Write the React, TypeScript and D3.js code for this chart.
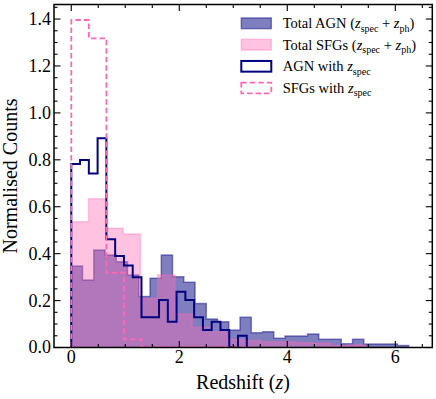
import React from "react";
import * as d3 from "d3";

// ---- data (normalised counts per bin) ----
const agnTotalStart = 0;
const agnTotalWidth = 0.20833;
const agnTotal = [0.347, 0.288, 0.416, 0.394, 0.366, 0.309, 0.217, 0.295, 0.394, 0.302, 0.278, 0.188, 0.121, 0.110, 0.075, 0.129, 0.063, 0.067, 0.039, 0.049, 0.049, 0.058, 0.035, 0.035, 0.016, 0.035, 0.015, 0.015, 0.015, 0.008];

const sfgTotalStart = 0;
const sfgTotalWidth = 0.32;
const sfgTotal = [0.536, 0.634, 0.508, 0.484, 0.210, 0.309, 0.143, 0.086, 0.067, 0.035, 0.030, 0.025, 0.025, 0.020, 0.018, 0.008, 0.012, 0, 0, 0];

const agnSpecStart = 0;
const agnSpecWidth = 0.1625;
const agnSpec = [0.782, 0.799, 0.742, 0.892, 0.461, 0.390, 0.349, 0.299, 0.129, 0.129, 0.202, 0.110, 0.238, 0.202, 0.129, 0.075, 0.110, 0.075, 0, 0.050];

const sfgSpecStart = 0;
const sfgSpecWidth = 0.325;
const sfgSpec = [1.396, 1.318, 0.319, 0.035, 0, 0, 0, 0, 0, 0];

const xMajorTicks = [0, 2, 4, 6];
const yMajorTicks = [0, 0.2, 0.4, 0.6, 0.8, 1.0, 1.2, 1.4];

const W = 436, H = 399;
const L = 54, R = 432.3, T = 4.5, B = 347.5;

const x = d3.scaleLinear().domain([-0.32, 6.685]).range([L, R]);
const y = d3.scaleLinear().domain([0, 1.462]).range([B, T]);

function stepPath(start: number, width: number, vals: number[], close: boolean) {
  const pts: [number, number][] = [];
  pts.push([x(start), y(0)]);
  vals.forEach((v, i) => {
    pts.push([x(start + i * width), y(v)]);
    pts.push([x(start + (i + 1) * width), y(v)]);
  });
  pts.push([x(start + vals.length * width), y(0)]);
  const line = d3.line();
  return line(pts) + (close ? "Z" : "");
}

const FONT = "'Liberation Serif', 'DejaVu Serif', serif";

function MathLabel({ xPos, yPos, pre, subs }: { xPos: number; yPos: number; pre: string; subs: string[] }) {
  const fs = 14.5;
  const sfs = 10;
  const sh = 3.2;
  return (
    <text x={xPos} y={yPos} fontSize={fs} fontFamily={FONT} fill="#000">
      {pre}
      {subs.length === 2 ? (
        <>
          (<tspan fontStyle="italic">z</tspan>
          <tspan fontSize={sfs} dy={sh}>{subs[0]}</tspan>
          <tspan dy={-sh}> + </tspan>
          <tspan fontStyle="italic">z</tspan>
          <tspan fontSize={sfs} dy={sh}>{subs[1]}</tspan>
          <tspan dy={-sh}>)</tspan>
        </>
      ) : (
        <>
          <tspan fontStyle="italic">z</tspan>
          <tspan fontSize={sfs} dy={sh}>{subs[0]}</tspan>
        </>
      )}
    </text>
  );
}

export default function App() {
  const xMinor = d3.range(0, 6.7, 0.5);
  const yMinor = d3.range(0, 1.46, 0.05);
  const maj = 6.5, min = 3.5;

  const legendX = 241.3;
  const rowsY = [23.3, 44.7, 66.3, 88];
  const pw = 30, ph = 10.7;

  return (
    <svg width={W} height={H} style={{ position: "fixed", left: 0, top: 0, background: "#fff" }}>
      <rect x={0} y={0} width={W} height={H} fill="#fff" />
      <defs>
        <clipPath id="plot">
          <rect x={L} y={T} width={R - L} height={B - T} />
        </clipPath>
      </defs>
      <g clipPath="url(#plot)">
        <path d={stepPath(agnTotalStart, agnTotalWidth, agnTotal, true)} fill="#000080" fillOpacity={0.5} stroke="#000080" strokeOpacity={0.45} strokeWidth={1.5} />
        <path d={stepPath(sfgTotalStart, sfgTotalWidth, sfgTotal, true)} fill="#ff69b4" fillOpacity={0.4} stroke="#ff69b4" strokeOpacity={0.35} strokeWidth={1.5} />
        <path d={stepPath(agnSpecStart, agnSpecWidth, agnSpec, false)} fill="none" stroke="#000080" strokeWidth={2} />
        <path d={stepPath(sfgSpecStart, sfgSpecWidth, sfgSpec, false)} fill="none" stroke="#ff69b4" strokeWidth={1.8} strokeDasharray="5.5,3" />
      </g>

      {/* ticks */}
      <g stroke="#000" strokeWidth={1.1}>
        {xMinor.map((t) => {
          const isMaj = xMajorTicks.includes(t);
          const len = isMaj ? maj : min;
          return (
            <g key={"xt" + t}>
              <line x1={x(t)} x2={x(t)} y1={B} y2={B - len} />
              <line x1={x(t)} x2={x(t)} y1={T} y2={T + len} />
            </g>
          );
        })}
        {yMinor.map((t, i) => {
          const isMaj = i % 4 === 0;
          const len = isMaj ? maj : min;
          return (
            <g key={"yt" + i}>
              <line x1={L} x2={L + len} y1={y(t)} y2={y(t)} />
              <line x1={R} x2={R - len} y1={y(t)} y2={y(t)} />
            </g>
          );
        })}
      </g>
      <rect x={L} y={T} width={R - L} height={B - T} fill="none" stroke="#000" strokeWidth={1.5} />

      {/* tick labels */}
      <g fontFamily={FONT} fontSize={18} fill="#000">
        {xMajorTicks.map((t) => (
          <text key={"xl" + t} x={x(t)} y={362.5} textAnchor="middle">{t}</text>
        ))}
        {yMajorTicks.map((t) => (
          <text key={"yl" + t} x={51} y={y(t)} dy="0.33em" textAnchor="end">{t.toFixed(1)}</text>
        ))}
      </g>

      {/* axis labels */}
      <text x={243} y={389} textAnchor="middle" fontFamily={FONT} fontSize={20}>
        Redshift (<tspan fontStyle="italic">z</tspan>)
      </text>
      <text transform={`translate(16.5,176) rotate(-90)`} textAnchor="middle" fontFamily={FONT} fontSize={20}>
        Normalised Counts
      </text>

      {/* legend */}
      <rect x={legendX} y={rowsY[0] - ph / 2} width={pw} height={ph} fill="#000080" fillOpacity={0.5} stroke="#000080" strokeOpacity={0.45} strokeWidth={1.5} />
      <rect x={legendX} y={rowsY[1] - ph / 2} width={pw} height={ph} fill="#ff69b4" fillOpacity={0.4} stroke="#ff69b4" strokeOpacity={0.35} strokeWidth={1.5} />
      <rect x={legendX} y={rowsY[2] - ph / 2} width={pw} height={ph} fill="none" stroke="#000080" strokeWidth={2} />
      <rect x={legendX} y={rowsY[3] - ph / 2} width={pw} height={ph} fill="none" stroke="#ff69b4" strokeWidth={1.8} strokeDasharray="5.5,3" />

      <MathLabel xPos={282.7} yPos={rowsY[0] + 5} pre="Total AGN " subs={["spec", "ph"]} />
      <MathLabel xPos={282.7} yPos={rowsY[1] + 5} pre="Total SFGs " subs={["spec", "ph"]} />
      <MathLabel xPos={282.7} yPos={rowsY[2] + 5} pre="AGN with " subs={["spec"]} />
      <MathLabel xPos={282.7} yPos={rowsY[3] + 5} pre="SFGs with " subs={["spec"]} />
    </svg>
  );
}
